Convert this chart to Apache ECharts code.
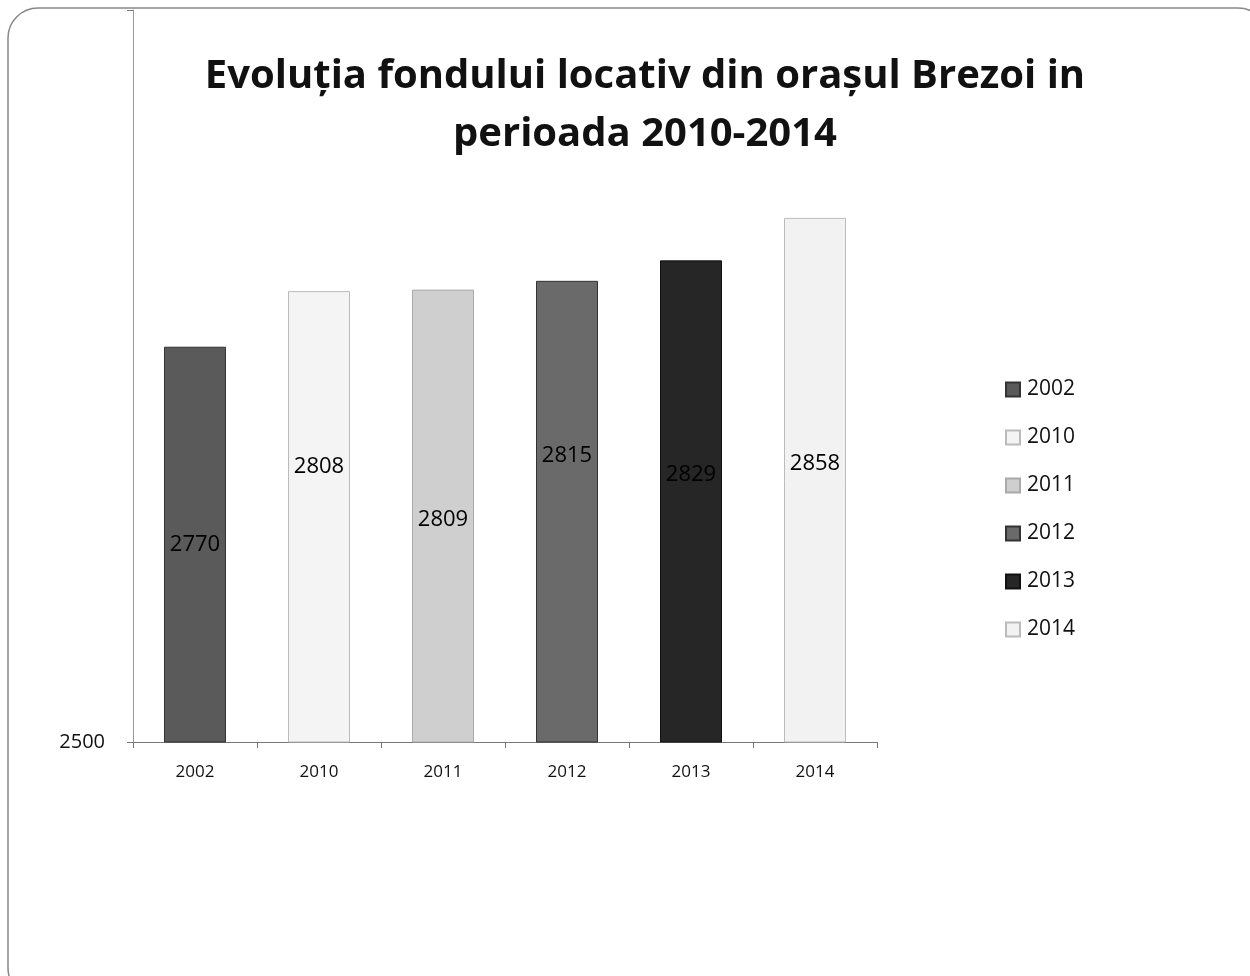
<!DOCTYPE html>
<html><head><meta charset="utf-8">
<script src="https://cdn.jsdelivr.net/npm/echarts@6/dist/echarts.min.js"></script>
<style>html,body{margin:0;padding:0;background:#fff}#c{width:1250px;height:976px}</style>
</head><body><div id="c"></div>
<script>
var categories = ['2002','2010','2011','2012','2013','2014'];
var seriesNames = ['2002','2010','2011','2012','2013','2014'];
var values = [2770, 2808, 2809, 2815, 2829, 2858];
var yTickLabels = ['2500'];

var colors = ['#5a5a5a','#f4f4f4','#cfcfcf','#6a6a6a','#262626','#f2f2f2'];
var borders = ['#333','#bbb','#aaa','#333','#111','#bbb'];
var labelDy = [0,-50,4,-56,-27,-16];

var chart = echarts.init(document.getElementById('c'));
var series = seriesNames.map(function(n,i){
  var d = categories.map(function(c,j){ return j===i ? values[i] : null; });
  return {
    name: n, type: 'bar', stack: 'all', barWidth: 62, data: d,
    itemStyle: {color: colors[i], borderColor: borders[i], borderWidth: 1},
    label: {show: true, position: 'inside', offset: [0, labelDy[i]], color: '#000',
      fontFamily: 'Open Sans', fontSize: 22, formatter: function(p){ return p.value; }}
  };
});
chart.setOption({
  animation: false,
  backgroundColor: '#fff',
  title: {text: 'Evoluția fondului locativ din orașul Brezoi in\nperioada 2010-2014',
    left: 640, top: 43, textAlign: 'center',
    textStyle: {fontFamily: 'Open Sans', fontWeight: 'bold', fontSize: 40, lineHeight: 58, color: '#111'}},
  legend: {orient: 'vertical', left: 1000, top: 374, itemWidth: 14, itemHeight: 14, itemGap: 27,
    icon: 'rect', textStyle: {fontFamily: 'Open Sans', fontSize: 21, color: '#111', padding: [0,0,0,2]},
    data: seriesNames},
  grid: {left: 133, right: 373, top: 10, bottom: 234},
  xAxis: {type: 'category', data: categories,
    axisLine: {lineStyle: {color: '#777'}},
    axisTick: {show: true, alignWithLabel: false, length: 6, lineStyle: {color: '#777'}},
    axisLabel: {fontFamily: 'Open Sans', fontSize: 17, color: '#111', margin: 22}},
  yAxis: {type: 'value', min: 2500, max: 3000, interval: 500,
    axisLine: {show: true, lineStyle: {color: '#999'}},
    axisTick: {show: true, length: 6, lineStyle: {color: '#777'}},
    splitLine: {show: false},
    axisLabel: {fontFamily: 'Open Sans', fontSize: 20, color: '#111', margin: 28,
      formatter: function(v){ return yTickLabels.indexOf(String(v)) >= 0 ? String(v) : ''; }}},
  graphic: [{type: 'rect', shape: {x: 8, y: 8, width: 1260, height: 990, r: 30},
    style: {fill: 'none', stroke: '#888', lineWidth: 1.5}, silent: true}],
  series: series
});
</script></body></html>
